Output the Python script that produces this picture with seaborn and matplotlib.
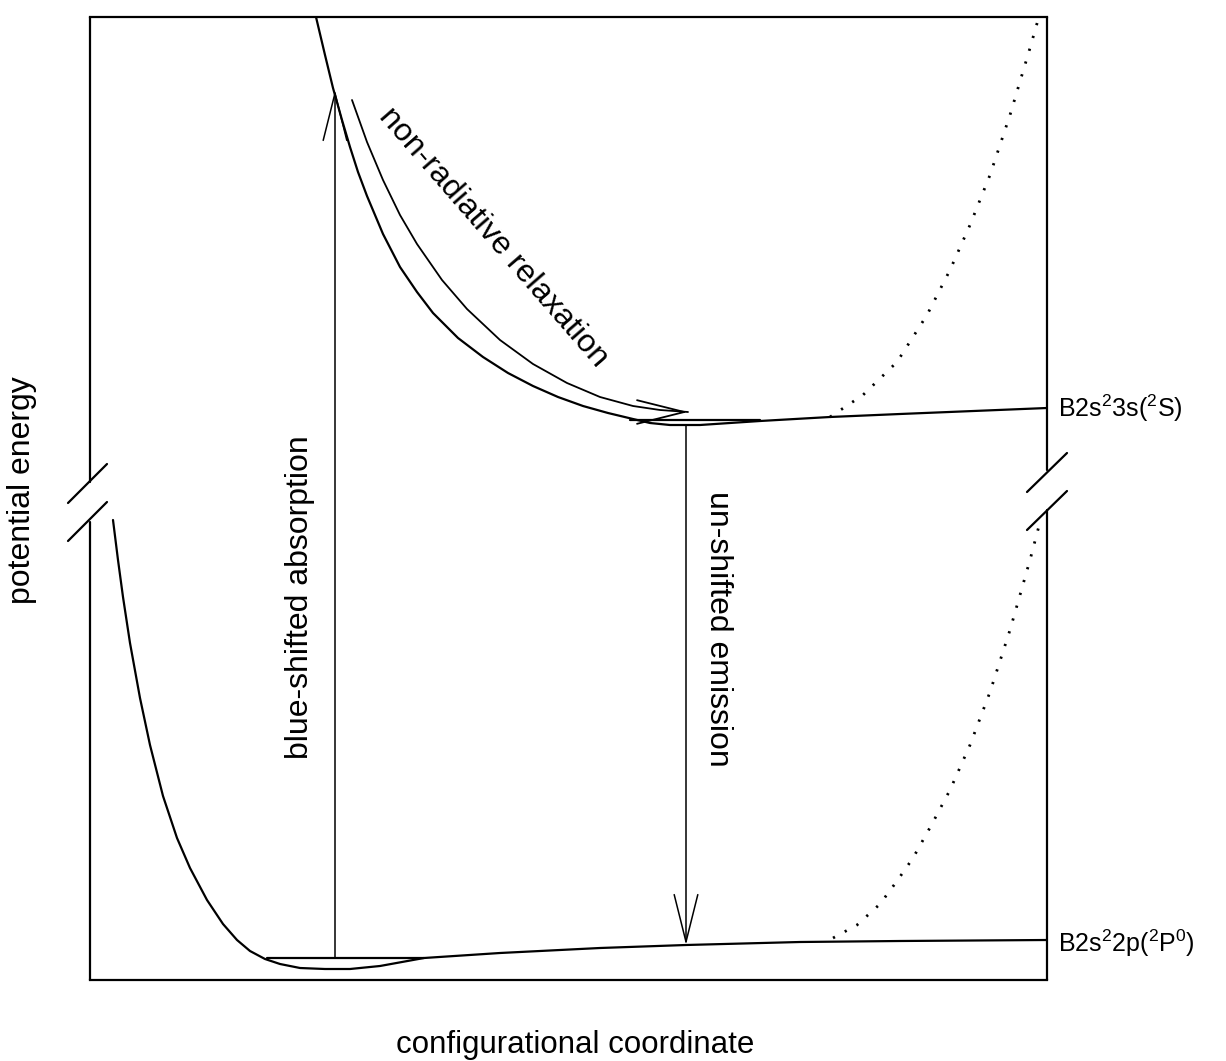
import numpy as np
import pandas as pd
import seaborn as sns
import matplotlib.pyplot as plt

# Coordinates (arbitrary units: x = configurational
# coordinate, y = potential energy, box spans 0..957 x 0..963)

# ground state B2s2 2p (2P0): repulsive wall + shallow well
lower_x = [23, 28, 33, 40, 50, 60, 73, 87, 100, 117, 133, 147, 160, 175, 190, 210,
           235, 260, 290, 334, 410, 510, 596, 710, 810, 957]
lower_y = [460, 420, 383, 337, 282, 235, 184, 142, 112, 80, 56, 40, 29, 21, 16, 12,
           11, 11, 14, 22, 27, 32, 35, 38, 39, 40]
lower_flat_x = [177, 334]
lower_flat_y = [22, 22]
lower_dot_x = [743, 767, 790, 807, 823, 842, 860, 880, 900, 920, 940, 950]
lower_dot_y = [42, 55, 76, 99, 122, 156, 190, 235, 288, 350, 420, 458]

# excited state B2s2 3s (2S)
upper_x = [226, 235, 243, 252, 260, 268, 277, 293, 310, 327, 343, 368, 393, 418, 443,
           468, 493, 518, 543, 560, 580, 610, 640, 670, 740, 810, 957]
upper_y = [963, 925, 892, 860, 833, 808, 784, 746, 713, 688, 667, 642, 623, 607, 594,
           583, 574, 567, 561, 557, 555, 555, 557, 559, 563, 566, 572]
upper_flat_x = [540, 670]
upper_flat_y = [560, 560]
upper_dot_x = [740, 773, 807, 837, 860, 880, 900, 920, 940, 948]
upper_dot_y = [563, 585, 618, 665, 710, 755, 805, 865, 932, 960]

# non-radiative relaxation path
relax_x = [262, 277, 293, 310, 327, 352, 377, 410, 443, 477, 510, 543, 570, 598]
relax_y = [880, 838, 800, 765, 736, 700, 671, 640, 616, 597, 583, 574, 570, 568]

absorb_x, absorb_y = [245, 245], [22, 890]
emit_x, emit_y = [596, 596], [555, 35]

state_labels = ['B2s$^2$3s($^2$S)', 'B2s$^2$2p($^2$P$^0$)']
state_levels = [572, 37]

sns.set_theme(style='white')
plt.rcParams['font.family'] = ['Liberation Sans', 'DejaVu Sans']
plt.rcParams['text.color'] = 'black'
plt.rcParams['mathtext.fontset'] = 'custom'
plt.rcParams['mathtext.rm'] = 'Liberation Sans'
plt.rcParams['mathtext.it'] = 'Liberation Sans:italic'

fig = plt.figure(figsize=(12.26, 10.61), dpi=100, facecolor='white')
ax = fig.add_axes([90 / 1226, 81 / 1061, 957 / 1226, 963 / 1061])

def curve(x, y, **kw):
    kw.setdefault('lw', 1.6)
    sns.lineplot(x=x, y=y, sort=False, estimator=None, ax=ax, color='black', **kw)

curve(lower_x, lower_y)
curve(lower_flat_x, lower_flat_y)
curve(lower_dot_x, lower_dot_y, linestyle=(0, (0.8, 4)), lw=2)
curve(upper_x, upper_y)
curve(upper_flat_x, upper_flat_y)
curve(upper_dot_x, upper_dot_y, linestyle=(0, (0.8, 4)), lw=2)
curve(relax_x, relax_y, lw=1.3)

head = dict(arrowstyle='->,head_length=3.4,head_width=0.85', mutation_scale=10,
            lw=1.1, color='black', shrinkA=0, shrinkB=0)
ax.annotate('', xy=(absorb_x[1], absorb_y[1]), xytext=(absorb_x[0], absorb_y[0]), arrowprops=head)
ax.annotate('', xy=(emit_x[1], emit_y[1]), xytext=(emit_x[0], emit_y[0]), arrowprops=head)
ax.annotate('', xy=(relax_x[-1], relax_y[-1]), xytext=(relax_x[-1] - 8, relax_y[-1]),
            arrowprops=dict(head, lw=1.3))

ax.set_xlim(0, 957)
ax.set_ylim(0, 963)
ax.set_xticks([])
ax.set_yticks([])
for side in ['left', 'right']:
    ax.spines[side].set_visible(False)
for side in ['top', 'bottom']:
    ax.spines[side].set_linewidth(1.6)
    ax.spines[side].set_color('black')

# broken side axes with double slashes
ax.plot([0, 0], [0, 458], color='black', lw=1.6, clip_on=False)
ax.plot([0, 0], [498, 963], color='black', lw=1.6, clip_on=False)
ax.plot([957, 957], [0, 470], color='black', lw=1.6, clip_on=False)
ax.plot([957, 957], [510, 963], color='black', lw=1.6, clip_on=False)
for dy in [0, 38]:
    ax.plot([-22, 17], [439 + dy, 478 + dy], color='black', lw=1.6, clip_on=False)
    ax.plot([937, 977], [450 + dy, 489 + dy], color='black', lw=1.6, clip_on=False)

fs = 23
ax.text(403, 743, 'non-radiative relaxation', rotation=-49, fontsize=fs,
        ha='center', va='center', rotation_mode='anchor')
ax.text(210, 383, 'blue-shifted absorption', rotation=90, fontsize=fs,
        ha='center', va='center')
ax.text(628, 351, 'un-shifted emission', rotation=-90, fontsize=fs,
        ha='center', va='center')
for lab, lev in zip(state_labels, state_levels):
    ax.text(968, lev, lab, fontsize=18, ha='left', va='center', clip_on=False)

fig.text(22 / 1226, 1 - 490 / 1061, 'potential energy', rotation=90, fontsize=fs,
         ha='center', va='center')
fig.text(575 / 1226, 1 - 1045 / 1061, 'configurational coordinate', fontsize=22.5,
         ha='center', va='center')

fig.savefig('out.png', dpi=100, facecolor='white')
